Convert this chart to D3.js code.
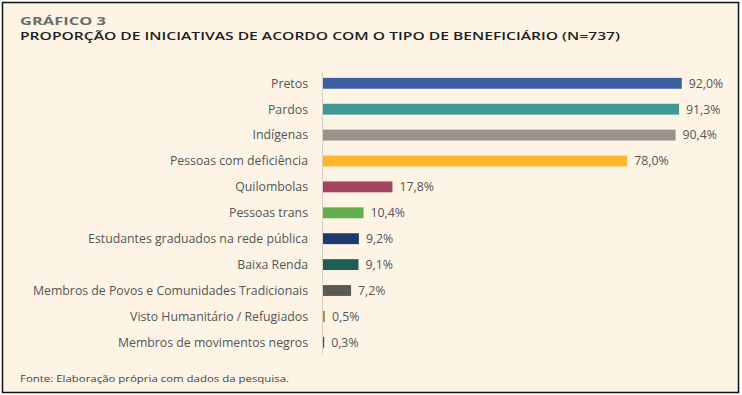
<!DOCTYPE html>
<html>
<head>
<meta charset="utf-8">
<script src="https://cdn.jsdelivr.net/npm/d3@7"></script>
<style>
  body { margin: 0; background: #fff; }
</style>
</head>
<body>
<div id="myVis"></div>
<script>
var w = 742;
var h = 395;

// Data
var categories = [
  "Pretos", "Pardos", "Indígenas", "Pessoas com deficiência", "Quilombolas",
  "Pessoas trans", "Estudantes graduados na rede pública", "Baixa Renda",
  "Membros de Povos e Comunidades Tradicionais", "Visto Humanitário / Refugiados",
  "Membros de movimentos negros"
];
var values = [92.0, 91.3, 90.4, 78.0, 17.8, 10.4, 9.2, 9.1, 7.2, 0.5, 0.3];
var colors = [
  "#3d5f9f", "#3f9891", "#98938b", "#fdb728", "#a44560", "#63b04b",
  "#1d3a6e", "#1e5e57", "#5b5955", "#b98a30", "#5a4646"
];

var svg = d3.select("#myVis").append("svg")
  .attr("width", w)
  .attr("height", h);

// frame
svg.append("rect")
  .attr("x", 2.5).attr("y", 2.5)
  .attr("width", 736).attr("height", 390)
  .attr("fill", "#fdf4e6")
  .attr("stroke", "#111")
  .attr("stroke-width", 1.5);

// titles
svg.append("text")
  .attr("x", 20).attr("y", 24.5)
  .attr("font-family", "Open Sans")
  .attr("font-weight", 700)
  .attr("font-size", 10)
  .attr("fill", "#6e6a66")
  .attr("textLength", 86)
  .attr("lengthAdjust", "spacingAndGlyphs")
  .text("GRÁFICO 3");

svg.append("text")
  .attr("x", 20).attr("y", 39.5)
  .attr("font-family", "Open Sans")
  .attr("font-weight", 600)
  .attr("font-size", 11)
  .attr("fill", "#1e1e1e")
  .attr("textLength", 600)
  .attr("lengthAdjust", "spacingAndGlyphs")
  .text("PROPORÇÃO DE INICIATIVAS DE ACORDO COM O TIPO DE BENEFICIÁRIO (N=737)");

// scales
var x = d3.scaleLinear().domain([0, 100]).range([323, 713]);
var y = d3.scaleBand()
  .domain(categories)
  .range([70.35, 355.25])
  .paddingInner(0.58)
  .paddingOuter(0.29);

// axis line
svg.append("line")
  .attr("x1", x(0) - 0.5).attr("x2", x(0) - 0.5)
  .attr("y1", 71).attr("y2", 354)
  .attr("stroke", "#d9d0c4")
  .attr("stroke-width", 1);

// bars
svg.selectAll(".bar")
  .data(values)
  .enter()
  .append("rect")
  .attr("class", "bar")
  .attr("x", x(0))
  .attr("y", function(d, i) { return y(categories[i]); })
  .attr("width", function(d) { return Math.max(1, x(d) - x(0)); })
  .attr("height", y.bandwidth())
  .attr("fill", function(d, i) { return colors[i]; });

// category labels
svg.selectAll(".cat")
  .data(categories)
  .enter()
  .append("text")
  .attr("class", "cat")
  .attr("x", 308)
  .attr("y", function(d) { return y(d) + y.bandwidth() / 2; })
  .attr("dy", "0.35em")
  .attr("text-anchor", "end")
  .attr("font-family", "Open Sans")
  .attr("font-size", 12.3)
  .attr("fill", "#555")
  .text(function(d) { return d; });

// value labels
svg.selectAll(".val")
  .data(values)
  .enter()
  .append("text")
  .attr("class", "val")
  .attr("x", function(d) { return x(d) + 7; })
  .attr("y", function(d, i) { return y(categories[i]) + y.bandwidth() / 2; })
  .attr("dy", "0.35em")
  .attr("font-family", "Open Sans")
  .attr("font-size", 12.3)
  .attr("fill", "#555")
  .text(function(d) { return d.toFixed(1).replace(".", ",") + "%"; });

// source
svg.append("text")
  .attr("x", 20).attr("y", 381.5)
  .attr("font-family", "Open Sans")
  .attr("font-size", 8.5)
  .attr("fill", "#444")
  .attr("textLength", 269)
  .attr("lengthAdjust", "spacingAndGlyphs")
  .text("Fonte: Elaboração própria com dados da pesquisa.");
</script>
</body>
</html>
